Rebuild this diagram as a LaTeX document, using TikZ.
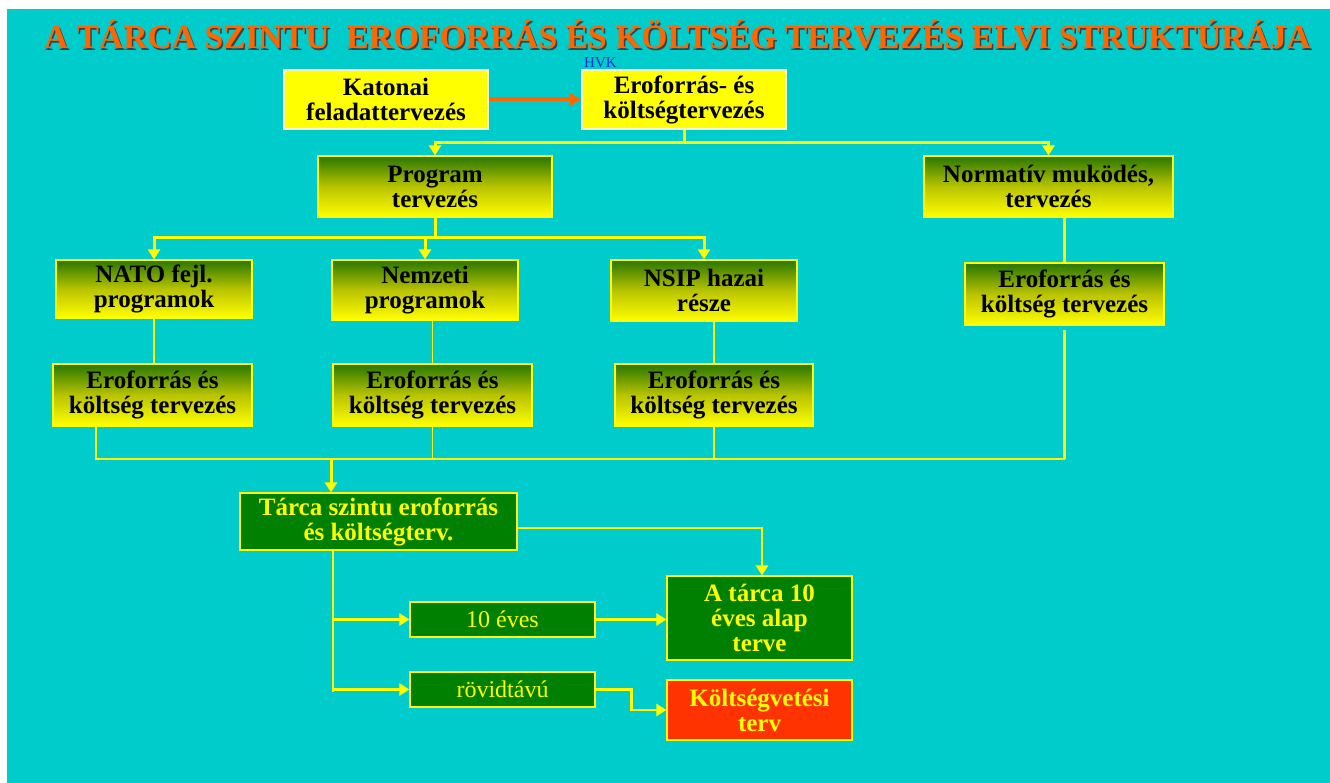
\documentclass[tikz,border=0pt]{standalone}
\usepackage{fontspec}
\setmainfont{Liberation Serif}
\usetikzlibrary{arrows.meta,calc}
\definecolor{bg}{RGB}{0,204,204}
\definecolor{yel}{RGB}{255,255,0}
\definecolor{dgreen}{RGB}{0,128,0}
\definecolor{gtop}{RGB}{40,118,0}
\definecolor{gmid}{RGB}{185,195,0}
\definecolor{red1}{RGB}{255,51,0}
\definecolor{orng}{RGB}{255,102,0}
\definecolor{hvk}{RGB}{0,51,204}
\definecolor{lightedge}{RGB}{255,255,200}
\tikzset{
 boxbase/.style={draw, line width=1.2pt, align=center, inner sep=0pt,
   font=\fontsize{25}{25}\selectfont\bfseries},
 ybox/.style={boxbase, draw=lightedge, fill=yel, text=black},
 gbox/.style={boxbase, draw=yel, top color=gtop, bottom color=yel, middle color=gmid, text=black},
 dbox/.style={boxbase, draw=yel, fill=dgreen, text=yel},
 rbox/.style={boxbase, draw=yel, fill=red1, text=yel},
 conn/.style={draw=yel, line width=3pt},
 midconn/.style={draw=yel, line width=2.5pt},
 thinconn/.style={draw=yel, line width=1.5pt},
 arr/.style={-{Triangle[width=12pt,length=10pt]}},
 titlefont/.style={font=\fontsize{33.6}{34}\selectfont\bfseries, anchor=base, inner sep=0pt},
}
\begin{document}
\begin{tikzpicture}[x=1pt,y=-1pt]
\useasboundingbox (0,0) rectangle (1330,783);
\fill[white] (0,0) rectangle (1330,783);
\fill[bg] (7,9) rectangle (1330,783);

% title
\node[titlefont, text=black!75] (titleshadow) at (679,50.5) {A TÁRCA SZINTU\ \ EROFORRÁS ÉS KÖLTSÉG TERVEZÉS ELVI STRUKTÚRÁJA};
\node[titlefont, text=orng] (title) at (677.5,49) {A TÁRCA SZINTU\ \ EROFORRÁS ÉS KÖLTSÉG TERVEZÉS ELVI STRUKTÚRÁJA};
\node[font=\fontsize{15}{15}\selectfont, text=hvk, anchor=base west, inner sep=0pt] (hvk) at (584,68) {HVK};

% boxes
\node[ybox, minimum width=204, minimum height=59] (kat) at (386,99.5) {Katonai\\feladattervezés};
\node[ybox, minimum width=204, minimum height=59] (erof0) at (684,99.5) {Eroforrás- és\\költségtervezés};
\node[gbox, minimum width=234, minimum height=61] (prog) at (435,186.5) {Program\\tervezés};
\node[gbox, minimum width=249, minimum height=61] (norm) at (1048.5,186.5) {Normatív muködés,\\tervezés};
\node[gbox, minimum width=196, minimum height=58] (nato) at (154,289) {NATO fejl.\\programok};
\node[gbox, minimum width=186, minimum height=60] (nemz) at (425,290) {Nemzeti\\programok};
\node[gbox, minimum width=186, minimum height=61] (nsip) at (704,290.5) {NSIP hazai\\része};
\node[gbox, minimum width=199, minimum height=62] (e1) at (152.5,395) {Eroforrás és\\költség tervezés};
\node[gbox, minimum width=199, minimum height=62] (e2) at (432.5,395) {Eroforrás és\\költség tervezés};
\node[gbox, minimum width=198, minimum height=62] (e3) at (714,395) {Eroforrás és\\költség tervezés};
\node[gbox, minimum width=199, minimum height=62] (e4) at (1064.5,294) {Eroforrás és\\költség tervezés};
\node[dbox, minimum width=277, minimum height=57] (tarca) at (378.5,521.5) {Tárca szintu eroforrás\\és költségterv.};
\node[dbox, minimum width=185, minimum height=84] (atarca) at (759.5,618) {A tárca 10\\éves alap\\terve};
\node[dbox, minimum width=185, minimum height=35, font=\fontsize{24}{24}\selectfont] (tiz) at (502.5,619.5) {10 éves};
\node[dbox, minimum width=185, minimum height=35, font=\fontsize{24}{24}\selectfont] (rovid) at (502.5,689.5) {rövidtávú};
\node[rbox, minimum width=185, minimum height=60] (kolt) at (759.5,710) {Költségvetési\\terv};

% connectors
\draw[orng, line width=4pt, -{Triangle[width=13pt,length=12pt]}] (kat.east) -- (erof0.west);

\coordinate (j1) at (684,143);
\draw[conn] (erof0.south) -- (j1);
\draw[conn, arr] (j1) -| (prog.north);
\draw[conn, arr] (j1) -| (norm.north);

\coordinate (j2) at (435,238);
\draw[conn] (prog.south) -- (j2);
\draw[conn, arr] (j2) -| (nato.north);
\draw[conn, arr] (j2) -| (nemz.north);
\draw[conn, arr] (j2) -| (nsip.north);

\draw[thinconn] (nato.south) -- (nato.south |- e1.north);
\draw[thinconn] (nemz.south -| e2.north) -- (e2.north);
\draw[thinconn] (nsip.south -| e3.north) -- (e3.north);
\draw[midconn] (norm.south -| e4.north) -- (e4.north);

\coordinate (cl) at (96,459);
\coordinate (cr) at (1064.5,459);
\coordinate (ct) at (331,459);
\draw[thinconn] (e1.south -| cl) -- (cl) -- (cr);
\draw[thinconn] (e2.south) -- (e2.south |- cl);
\draw[thinconn] (e3.south) -- (e3.south |- cl);
\draw[midconn] ([yshift=-4pt]e4.south) -- (cr);
\draw[conn, arr] (ct) -- (ct |- tarca.north);

\coordinate (ta) at (762,528);
\draw[midconn, arr] (tarca.east |- ta) -- (ta) -- (ta |- atarca.north);

\coordinate (tb) at (333,692);
\draw[midconn] (tarca.south -| tb) -- (tb);
\draw[midconn, arr] (tb |- tiz.west) -- (tiz.west);
\draw[midconn, arr] (tb |- rovid.west) -- (rovid.west);
\draw[conn, arr] (tiz.east) -- (tiz.east -| atarca.west);
\draw[midconn, arr] (rovid.east) -- ++(36,0) |- (kolt.west);
\end{tikzpicture}
\end{document}
